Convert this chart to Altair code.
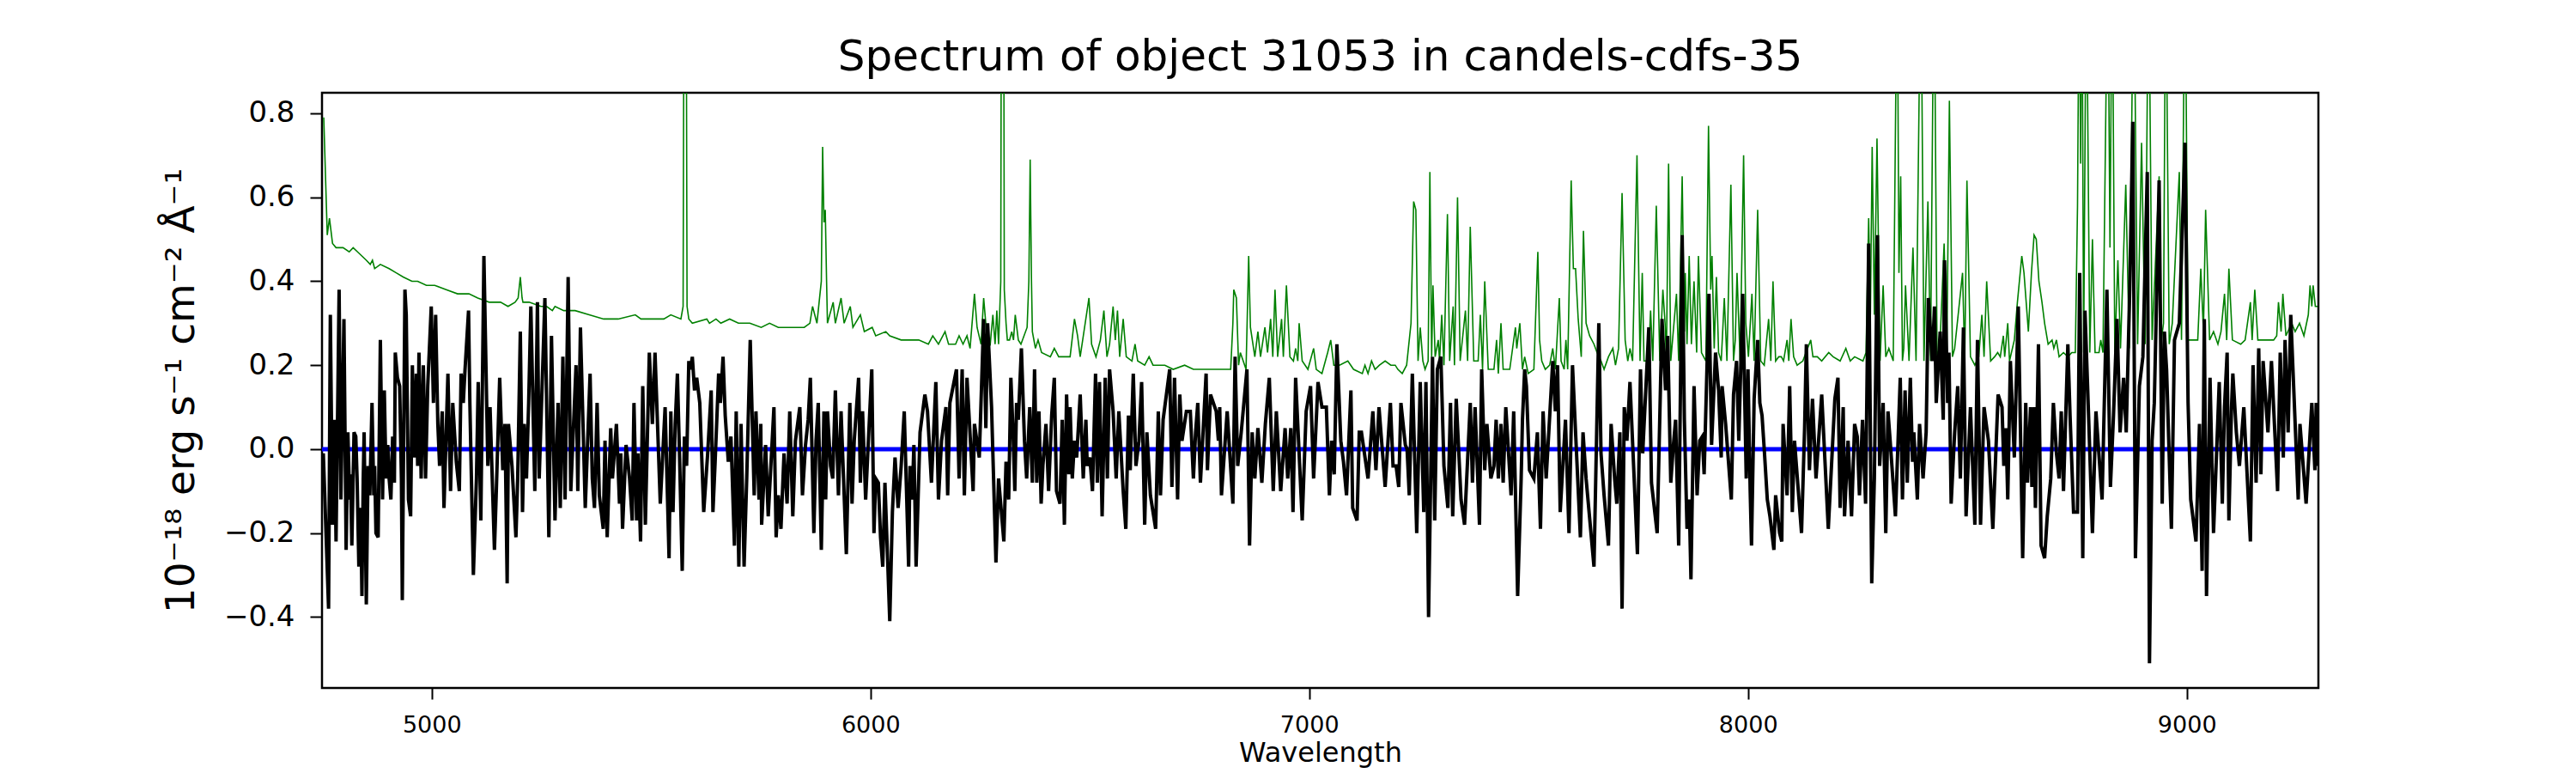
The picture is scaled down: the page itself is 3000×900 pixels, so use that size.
import altair as alt
import pandas as pd

FONT = "DejaVu Sans"

# Object spectrum (black), wavelength in Angstrom, flux in 1e-18 erg/s/cm2/A
BLACK = [
    (4753, -0.01), (4765, -0.38), (4769, 0.32), (4774, -0.18), (4778, 0.07), (4782, -0.22),
    (4789, 0.38), (4793, -0.12), (4800, 0.31), (4805, -0.24), (4809, 0.04), (4813, -0.12),
    (4815, -0.06), (4818, -0.23), (4823, 0.04), (4827, 0.03), (4830, -0.07), (4834, -0.28),
    (4838, -0.14), (4841, -0.35), (4844, -0.07), (4846, 0.04), (4851, -0.37), (4855, -0.04),
    (4859, -0.11), (4864, 0.11), (4868, -0.11), (4870, -0.04), (4873, -0.20), (4878, -0.21),
    (4883, 0.26), (4888, -0.12), (4892, 0.14), (4896, -0.07), (4900, 0.01), (4903, -0.07),
    (4907, -0.12), (4911, 0.03), (4915, -0.08), (4917, 0.23), (4922, 0.17), (4927, 0.15),
    (4931, -0.07), (4933, -0.36), (4939, 0.38), (4942, 0.32), (4947, -0.12), (4952, -0.16),
    (4956, 0.20), (4960, -0.02), (4965, 0.18), (4968, -0.04), (4971, 0.23), (4976, -0.07),
    (4981, 0.20), (4986, -0.07), (4991, 0.15), (4999, 0.34), (5004, 0.11), (5009, 0.32),
    (5014, 0.06), (5018, -0.04), (5024, 0.09), (5028, -0.14), (5037, 0.18), (5043, -0.10),
    (5048, 0.11), (5056, -0.03), (5063, -0.10), (5067, 0.18), (5072, 0.11), (5076, 0.19),
    (5084, 0.33), (5087, 0.11), (5095, -0.30), (5102, -0.07), (5106, 0.16), (5112, -0.17),
    (5119, 0.46), (5128, -0.04), (5133, 0.10), (5143, -0.24), (5147, -0.11), (5155, 0.17),
    (5162, -0.05), (5167, 0.06), (5172, -0.32), (5175, 0.06), (5183, -0.04), (5192, -0.21),
    (5196, -0.07), (5202, 0.28), (5207, -0.15), (5211, 0.06), (5216, -0.07), (5221, 0.11),
    (5226, 0.34), (5235, -0.10), (5241, 0.35), (5245, -0.07), (5258, 0.36), (5267, -0.21),
    (5273, 0.27), (5281, -0.17), (5288, 0.11), (5293, -0.14), (5299, 0.22), (5304, -0.12),
    (5311, 0.41), (5317, -0.10), (5329, 0.20), (5333, -0.10), (5339, 0.29), (5350, -0.14),
    (5361, 0.18), (5366, -0.07), (5371, -0.14), (5377, 0.11), (5382, -0.11), (5391, -0.19),
    (5395, 0.02), (5400, -0.21), (5408, 0.05), (5412, -0.07), (5421, 0.06), (5428, -0.13),
    (5431, -0.01), (5435, -0.19), (5443, 0.01), (5451, -0.07), (5457, -0.17), (5461, 0.11),
    (5467, -0.17), (5470, -0.01), (5476, -0.22), (5481, 0.15), (5487, -0.18), (5496, 0.23),
    (5503, 0.06), (5509, 0.23), (5521, -0.13),
    (5532, 0.10), (5541, -0.26), (5545, 0.09), (5550, -0.15), (5555, 0.06), (5560, 0.18),
    (5565, -0.02), (5571, -0.29), (5576, 0.03), (5581, -0.04), (5586, 0.21), (5590, 0.19),
    (5594, 0.22), (5599, 0.14), (5604, 0.17), (5611, 0.11), (5620, -0.15), (5629, -0.01),
    (5637, 0.14), (5641, -0.15), (5646, -0.03), (5654, 0.18), (5658, 0.11), (5664, 0.22),
    (5669, 0.08), (5676, -0.03), (5682, 0.03), (5690, -0.23), (5694, 0.09), (5700, -0.28),
    (5705, 0.06), (5712, -0.28), (5718, -0.07), (5726, 0.26), (5735, -0.11), (5739, 0.09),
    (5746, -0.12), (5750, 0.06), (5752, -0.18), (5761, 0.01), (5767, -0.16), (5780, 0.10),
    (5785, -0.21), (5790, -0.11), (5796, -0.19), (5803, -0.01), (5810, -0.13), (5816, 0.09),
    (5823, -0.16), (5829, 0.02), (5839, 0.10), (5845, -0.11), (5852, 0.01), (5858, 0.07),
    (5863, 0.17), (5871, -0.20), (5876, 0.02), (5881, 0.11), (5888, -0.24), (5894, 0.09),
    (5898, -0.12), (5902, 0.09), (5909, -0.04), (5914, -0.07), (5920, 0.14), (5927, -0.11),
    (5933, 0.09), (5945, -0.25), (5953, 0.11), (5958, -0.13), (5963, 0.02), (5973, 0.17),
    (5977, -0.08), (5982, 0.09), (5989, -0.12), (6003, 0.19), (6008, -0.20), (6012, -0.07),
    (6018, -0.08), (6023, -0.21), (6028, -0.28), (6033, -0.08), (6044, -0.41), (6050, -0.15),
    (6056, -0.02), (6063, -0.14), (6070, -0.04), (6077, 0.09), (6087, -0.28), (6090, -0.04),
    (6095, -0.12), (6099, 0.01), (6104, -0.28), (6113, 0.04), (6124, 0.13), (6130, 0.09),
    (6139, -0.08), (6149, 0.16), (6155, -0.12), (6162, 0.02), (6172, 0.10), (6176, -0.11),
    (6181, 0.11), (6196, 0.19), (6202, -0.07), (6209, 0.19), (6214, -0.11), (6220, 0.17),
    (6234, -0.10), (6237, 0.06), (6248, -0.02), (6258, 0.31), (6263, 0.05), (6267, 0.30),
    (6276, 0.10),
    (6286, -0.27), (6292, -0.07), (6304, -0.22), (6309, -0.03), (6315, -0.12), (6320, 0.17),
    (6325, 0.04), (6329, -0.10), (6333, 0.11), (6337, 0.07), (6344, 0.24), (6351, 0.02),
    (6356, -0.07), (6363, 0.10), (6369, -0.08), (6374, 0.19), (6379, -0.08), (6384, 0.09),
    (6389, -0.13), (6393, -0.04), (6400, 0.06), (6406, -0.10), (6413, 0.08), (6419, 0.17),
    (6424, -0.10), (6432, -0.13), (6437, 0.07), (6442, -0.18), (6447, 0.13), (6452, -0.06),
    (6455, 0.10), (6460, -0.07), (6465, 0.02), (6470, -0.02), (6478, 0.13), (6485, -0.07),
    (6491, 0.07), (6494, -0.04), (6500, -0.02), (6506, -0.10), (6513, 0.18), (6517, -0.08),
    (6522, 0.16), (6528, -0.16), (6535, 0.17), (6540, -0.07), (6545, 0.19), (6553, 0.09),
    (6560, -0.07), (6566, 0.09), (6576, -0.10), (6582, -0.19), (6588, 0.08), (6592, -0.05),
    (6599, 0.18), (6605, -0.04), (6612, 0.02), (6618, 0.16), (6625, -0.18), (6630, 0.04),
    (6638, -0.11), (6650, -0.19), (6656, 0.09), (6661, -0.11), (6667, 0.07), (6682, 0.19),
    (6687, -0.09), (6693, 0.17), (6700, -0.12), (6705, 0.13), (6710, 0.02), (6720, 0.09),
    (6729, 0.09), (6736, -0.07), (6741, 0.04), (6746, 0.11), (6752, -0.08), (6765, 0.18),
    (6768, -0.05), (6775, 0.13), (6788, 0.09), (6793, 0.02), (6796, 0.10), (6800, -0.11),
    (6813, 0.09), (6826, -0.13), (6831, 0.22), (6837, -0.04), (6845, 0.04), (6858, 0.19),
    (6864, -0.23), (6870, 0.04), (6876, -0.07), (6883, 0.05), (6892, -0.08), (6900, 0.06),
    (6909, 0.17), (6918, -0.10), (6925, 0.09), (6935, -0.10), (6945, 0.05), (6951, -0.07),
    (6958, 0.05), (6963, -0.15), (6969, 0.17), (6984, -0.17), (6993, 0.09), (7003, 0.15),
    (7010, -0.07), (7020, 0.16), (7029, 0.10), (7039, 0.10), (7046, -0.11),
    (7051, 0.02), (7057, -0.06), (7063, 0.25), (7072, 0.02), (7078, -0.03), (7085, -0.11),
    (7095, 0.14), (7099, -0.14), (7109, -0.17), (7114, 0.04), (7119, 0.04), (7134, -0.07),
    (7145, 0.09), (7152, -0.05), (7159, 0.10), (7173, -0.09), (7185, 0.11), (7191, -0.04),
    (7198, -0.04), (7204, -0.09), (7209, 0.11), (7219, 0.01), (7223, 0.00), (7228, -0.11),
    (7235, 0.18), (7245, -0.20), (7253, 0.16), (7261, -0.15), (7266, 0.16), (7272, -0.40),
    (7281, 0.22), (7286, -0.17), (7292, 0.19), (7300, 0.22), (7307, -0.04), (7316, -0.14),
    (7322, 0.11), (7327, -0.16), (7335, 0.12), (7346, -0.12), (7354, -0.18), (7367, 0.11),
    (7372, -0.08), (7378, 0.10), (7388, -0.18), (7393, 0.19), (7400, -0.05), (7405, 0.06),
    (7414, -0.07), (7421, -0.04), (7426, 0.07), (7431, -0.07), (7437, 0.06), (7442, -0.08),
    (7448, 0.10), (7460, -0.11), (7466, 0.09), (7475, -0.35), (7483, -0.07), (7486, 0.07),
    (7491, 0.19), (7495, 0.15), (7502, -0.05), (7512, -0.07), (7520, 0.04), (7527, -0.19),
    (7533, 0.09), (7540, -0.07), (7546, 0.04), (7555, 0.21), (7561, 0.09), (7566, 0.20),
    (7572, -0.15), (7584, 0.07), (7592, -0.20), (7600, 0.20), (7618, -0.21), (7624, 0.04),
    (7631, -0.07), (7649, -0.28), (7660, 0.30), (7665, -0.01), (7672, -0.11), (7682, -0.23),
    (7688, 0.06), (7696, -0.07), (7701, -0.13), (7708, 0.04), (7713, -0.38), (7718, 0.10),
    (7724, 0.02), (7731, 0.16), (7748, -0.25), (7755, 0.19), (7760, -0.01), (7774, 0.29),
    (7780, -0.08), (7793, -0.20), (7804, 0.31), (7812, 0.14),
    (7817, 0.27), (7824, -0.08), (7830, 0.01), (7835, 0.07), (7842, -0.23), (7850, 0.51),
    (7855, 0.07), (7861, -0.19), (7866, -0.12), (7870, -0.31), (7877, 0.15), (7884, -0.11),
    (7890, 0.02), (7896, 0.03), (7900, -0.06), (7911, 0.37), (7917, 0.01), (7926, 0.23),
    (7933, 0.14), (7939, -0.02), (7941, 0.15), (7949, 0.06), (7962, -0.12), (7967, 0.13),
    (7974, 0.21), (7979, 0.02), (7988, 0.37), (7996, -0.07), (8000, 0.19), (8005, -0.10),
    (8008, -0.23), (8014, 0.12), (8022, 0.26), (8027, 0.11), (8032, 0.08), (8037, 0.00),
    (8044, -0.12), (8050, -0.16), (8059, -0.24), (8063, -0.11), (8072, -0.20), (8077, -0.22),
    (8080, 0.06), (8089, -0.11), (8095, 0.15), (8101, -0.15), (8106, 0.02), (8122, -0.20),
    (8129, 0.05), (8133, 0.25), (8140, -0.05), (8147, 0.12), (8155, -0.07), (8168, 0.13),
    (8183, -0.19), (8198, 0.12), (8205, 0.17), (8210, -0.14), (8217, 0.10), (8220, -0.16),
    (8228, 0.02), (8236, -0.16), (8243, 0.06), (8249, 0.03), (8254, -0.11), (8261, 0.07),
    (8268, -0.13), (8275, 0.49), (8282, -0.32), (8288, -0.07), (8295, 0.51), (8300, -0.04),
    (8308, 0.11), (8314, -0.20), (8319, 0.09), (8324, 0.02), (8336, -0.16), (8347, 0.17),
    (8352, -0.12), (8358, 0.14), (8363, -0.08), (8370, 0.17), (8375, -0.03), (8378, 0.04),
    (8386, -0.12), (8391, 0.06), (8399, -0.07), (8406, 0.04), (8411, 0.36), (8420, 0.21),
    (8425, 0.34), (8429, 0.11), (8438, 0.28), (8445, 0.07), (8448, 0.45), (8455, 0.11),
    (8458, 0.23), (8463, -0.13), (8471, 0.04), (8478, 0.15), (8484, -0.07), (8491, 0.29),
    (8497, -0.16), (8507, 0.10), (8517, -0.18), (8523, 0.26), (8530, -0.18), (8538, 0.10),
    (8548, 0.02), (8558, -0.19), (8570, 0.13),
    (8579, 0.10), (8583, -0.04), (8588, 0.05), (8592, -0.12), (8598, 0.21), (8607, -0.02),
    (8616, 0.34), (8626, -0.26), (8633, 0.11), (8637, -0.08), (8644, 0.10), (8647, -0.09),
    (8652, 0.10), (8655, -0.14), (8662, 0.25), (8668, -0.23), (8676, -0.26), (8682, -0.16),
    (8690, -0.07), (8696, 0.11), (8703, -0.01), (8709, -0.07), (8714, 0.09), (8719, -0.10),
    (8729, 0.25), (8734, 0.08), (8742, -0.15), (8751, -0.15), (8756, 0.42), (8763, -0.26),
    (8768, 0.33), (8774, 0.15), (8785, -0.20), (8793, 0.09), (8807, -0.12), (8818, 0.38),
    (8826, -0.09), (8833, 0.08), (8841, 0.31), (8848, 0.04), (8856, 0.17), (8862, 0.04),
    (8870, 0.38), (8877, 0.78), (8883, -0.26), (8892, 0.15), (8900, 0.22), (8910, 0.66),
    (8915, -0.51), (8921, 0.02), (8926, 0.11), (8937, 0.64), (8944, -0.13), (8949, 0.28),
    (8954, 0.19), (8965, -0.19), (8972, 0.26), (8983, 0.30), (8996, 0.73), (9003, 0.11),
    (9009, -0.12), (9021, -0.22), (9029, 0.06), (9035, -0.29), (9040, 0.31), (9045, -0.35),
    (9053, 0.17), (9061, -0.20), (9074, 0.16), (9081, -0.13), (9086, 0.10), (9092, 0.23),
    (9096, -0.17), (9102, 0.10), (9105, 0.18), (9113, 0.04), (9120, -0.04), (9130, 0.10),
    (9145, -0.22), (9151, 0.20), (9158, -0.08), (9164, 0.24), (9169, -0.06), (9174, 0.21),
    (9185, 0.04), (9193, 0.21), (9207, -0.10), (9213, 0.23), (9220, -0.02), (9224, 0.26),
    (9231, 0.04), (9237, 0.32), (9254, -0.12), (9258, 0.06), (9272, -0.13), (9285, 0.11),
    (9292, -0.05), (9295, 0.11), (9298, -0.04),
]

# Sky / noise spectrum (green); values above the top of the frame are clipped
SKY = [
    (4754, 0.79), (4762, 0.51), (4767, 0.55), (4774, 0.49), (4782, 0.48), (4798, 0.48),
    (4812, 0.47), (4821, 0.48), (4831, 0.47), (4851, 0.45), (4860, 0.44), (4865, 0.45),
    (4870, 0.43), (4883, 0.44), (4903, 0.43), (4919, 0.42), (4935, 0.41), (4955, 0.40),
    (4968, 0.40), (4988, 0.39), (5007, 0.39), (5033, 0.38), (5059, 0.37), (5085, 0.37),
    (5105, 0.36), (5131, 0.35), (5157, 0.35), (5174, 0.34), (5190, 0.35), (5197, 0.36),
    (5202, 0.41), (5206, 0.36), (5208, 0.35), (5222, 0.35), (5249, 0.34), (5262, 0.34),
    (5275, 0.33), (5281, 0.34), (5301, 0.33), (5327, 0.33), (5359, 0.32), (5392, 0.31),
    (5425, 0.31), (5464, 0.32), (5477, 0.31), (5522, 0.31), (5529, 0.31), (5545, 0.32),
    (5568, 0.31), (5573, 0.34), (5576, 1.6), (5579, 1.6), (5582, 0.34), (5586, 0.31),
    (5594, 0.30), (5627, 0.31), (5633, 0.30), (5648, 0.31), (5659, 0.30), (5679, 0.31),
    (5699, 0.30), (5725, 0.30), (5751, 0.29), (5770, 0.30), (5790, 0.29), (5816, 0.29),
    (5849, 0.29), (5862, 0.30), (5868, 0.34), (5878, 0.30), (5888, 0.40), (5891, 0.72),
    (5894, 0.54), (5897, 0.57), (5900, 0.40), (5902, 0.30), (5915, 0.35), (5920, 0.30),
    (5933, 0.36), (5940, 0.30), (5954, 0.34), (5960, 0.29), (5977, 0.32), (5986, 0.28),
    (6004, 0.29), (6012, 0.27), (6035, 0.28), (6044, 0.27), (6070, 0.26), (6110, 0.26),
    (6132, 0.25), (6142, 0.27), (6155, 0.25), (6170, 0.28), (6178, 0.25), (6194, 0.25),
    (6202, 0.27), (6211, 0.25), (6220, 0.27), (6227, 0.24), (6237, 0.37), (6243, 0.29),
    (6252, 0.25), (6258, 0.36), (6266, 0.26), (6273, 0.25), (6279, 0.32), (6284, 0.25),
    (6288, 0.33), (6292, 0.25), (6297, 0.40), (6299, 1.6), (6303, 1.6), (6305, 0.38),
    (6309, 0.30), (6312, 0.26), (6317, 0.26), (6322, 0.28), (6326, 0.26), (6330, 0.32),
    (6337, 0.26), (6343, 0.25), (6357, 0.29), (6361, 0.40), (6364, 0.69), (6367, 0.40),
    (6369, 0.28), (6376, 0.24), (6382, 0.26), (6390, 0.23), (6410, 0.22), (6419, 0.24),
    (6429, 0.22), (6455, 0.22), (6465, 0.31), (6472, 0.27), (6478, 0.22), (6498, 0.36),
    (6504, 0.25), (6514, 0.22), (6524, 0.26), (6532, 0.33), (6539, 0.22), (6545, 0.25),
    (6553, 0.34), (6558, 0.26), (6563, 0.33), (6568, 0.22), (6576, 0.31), (6583, 0.22),
    (6596, 0.21), (6603, 0.25), (6609, 0.21), (6625, 0.20), (6635, 0.22), (6644, 0.20),
    (6671, 0.20), (6690, 0.19), (6716, 0.20), (6736, 0.19), (6762, 0.19), (6788, 0.19),
    (6821, 0.19), (6826, 0.30), (6828, 0.38), (6834, 0.36), (6839, 0.20), (6843, 0.23),
    (6856, 0.19), (6862, 0.46), (6866, 0.29), (6876, 0.22), (6883, 0.28), (6889, 0.22),
    (6899, 0.29), (6905, 0.23), (6912, 0.31), (6917, 0.22), (6922, 0.38), (6928, 0.22),
    (6937, 0.31), (6941, 0.22), (6948, 0.39), (6956, 0.22), (6964, 0.21), (6969, 0.24),
    (6974, 0.21), (6977, 0.30), (6984, 0.21), (6997, 0.19), (7010, 0.24), (7016, 0.19),
    (7029, 0.18), (7042, 0.23), (7049, 0.26), (7056, 0.20), (7069, 0.20), (7088, 0.21),
    (7101, 0.19), (7121, 0.18), (7127, 0.20), (7134, 0.18), (7142, 0.21), (7150, 0.19),
    (7160, 0.20), (7173, 0.21), (7186, 0.20), (7196, 0.20), (7202, 0.19), (7212, 0.18),
    (7222, 0.20), (7232, 0.30), (7238, 0.59), (7243, 0.57), (7248, 0.21), (7253, 0.29),
    (7259, 0.21), (7264, 0.19), (7271, 0.21), (7275, 0.66), (7279, 0.22), (7282, 0.39),
    (7287, 0.22), (7294, 0.26), (7297, 0.21), (7302, 0.32), (7307, 0.20), (7315, 0.56),
    (7320, 0.21), (7328, 0.34), (7331, 0.20), (7338, 0.60), (7344, 0.21), (7356, 0.33),
    (7361, 0.21), (7367, 0.53), (7375, 0.21), (7385, 0.21), (7390, 0.32), (7395, 0.19),
    (7400, 0.40), (7408, 0.19), (7421, 0.19), (7427, 0.26), (7431, 0.18), (7437, 0.30),
    (7442, 0.19), (7457, 0.19), (7470, 0.29), (7473, 0.24), (7480, 0.30), (7486, 0.19),
    (7491, 0.22), (7499, 0.18), (7512, 0.19), (7521, 0.47), (7525, 0.26), (7530, 0.21),
    (7538, 0.19), (7548, 0.20), (7555, 0.24), (7561, 0.19), (7570, 0.36), (7574, 0.21),
    (7581, 0.19), (7585, 0.26), (7589, 0.19), (7597, 0.64), (7602, 0.43), (7607, 0.43),
    (7613, 0.31), (7620, 0.22), (7625, 0.52), (7631, 0.30), (7639, 0.27), (7649, 0.25),
    (7656, 0.23), (7665, 0.21), (7672, 0.19), (7682, 0.22), (7692, 0.24), (7698, 0.20),
    (7705, 0.24), (7713, 0.61), (7720, 0.26), (7726, 0.21), (7731, 0.24), (7737, 0.21),
    (7747, 0.70), (7754, 0.21), (7759, 0.42), (7763, 0.21), (7773, 0.21), (7778, 0.33),
    (7783, 0.21), (7791, 0.58), (7799, 0.21), (7806, 0.38), (7811, 0.30), (7814, 0.21),
    (7819, 0.68), (7824, 0.21), (7837, 0.37), (7842, 0.21), (7850, 0.65), (7855, 0.28),
    (7857, 0.42), (7861, 0.25), (7866, 0.46), (7871, 0.25), (7877, 0.40), (7883, 0.23),
    (7887, 0.46), (7894, 0.23), (7904, 0.21), (7910, 0.77), (7915, 0.38), (7918, 0.46),
    (7923, 0.24), (7928, 0.41), (7933, 0.23), (7939, 0.21), (7946, 0.36), (7952, 0.21),
    (7961, 0.63), (7967, 0.21), (7971, 0.26), (7975, 0.42), (7982, 0.21), (7990, 0.70),
    (7995, 0.30), (8001, 0.22), (8009, 0.37), (8014, 0.21), (8022, 0.57), (8029, 0.21),
    (8037, 0.20), (8047, 0.31), (8052, 0.21), (8057, 0.40), (8063, 0.21), (8070, 0.22),
    (8076, 0.22), (8081, 0.21), (8089, 0.26), (8093, 0.21), (8098, 0.31), (8104, 0.22),
    (8112, 0.20), (8125, 0.21), (8143, 0.26), (8148, 0.22), (8158, 0.22), (8168, 0.21),
    (8184, 0.23), (8194, 0.22), (8210, 0.21), (8223, 0.24), (8233, 0.21), (8243, 0.22),
    (8262, 0.21), (8269, 0.23), (8275, 0.55), (8279, 0.32), (8283, 0.72), (8288, 0.32),
    (8294, 0.74), (8301, 0.21), (8308, 0.39), (8314, 0.22), (8321, 0.24), (8331, 0.21),
    (8340, 1.2), (8344, 0.42), (8348, 0.65), (8352, 0.21), (8355, 0.24), (8359, 0.39),
    (8367, 0.21), (8376, 0.48), (8383, 0.21), (8394, 1.2), (8401, 0.21), (8410, 0.59),
    (8416, 0.21), (8424, 1.2), (8431, 0.21), (8438, 0.26), (8447, 0.49), (8453, 0.21),
    (8459, 0.83), (8466, 0.22), (8471, 0.24), (8489, 0.42), (8494, 0.21), (8499, 0.64),
    (8507, 0.22), (8517, 0.20), (8526, 0.22), (8533, 0.32), (8538, 0.22), (8544, 0.40),
    (8553, 0.21), (8562, 0.22), (8569, 0.23), (8575, 0.22), (8582, 0.27), (8585, 0.22),
    (8592, 0.30), (8596, 0.21), (8607, 0.26), (8614, 0.35), (8624, 0.46), (8629, 0.42),
    (8639, 0.28), (8646, 0.42), (8652, 0.51), (8657, 0.50), (8663, 0.40), (8670, 0.35),
    (8676, 0.30), (8684, 0.25), (8693, 0.26), (8697, 0.24), (8703, 0.26), (8709, 0.22),
    (8719, 0.23), (8729, 0.22), (8738, 0.23), (8746, 0.23), (8751, 0.58), (8755, 1.2),
    (8758, 0.68), (8761, 1.2), (8765, 0.23), (8771, 1.2), (8779, 0.23), (8785, 0.50),
    (8791, 0.23), (8800, 0.23), (8804, 0.26), (8809, 0.23), (8820, 1.2), (8825, 0.48),
    (8830, 1.2), (8836, 0.23), (8843, 0.45), (8849, 0.24), (8861, 0.63), (8869, 0.24),
    (8879, 1.2), (8888, 0.25), (8897, 0.73), (8905, 0.25), (8913, 1.2), (8921, 0.26),
    (8937, 0.65), (8941, 0.25), (8947, 0.30), (8952, 1.2), (8960, 0.25), (8967, 0.30),
    (8983, 0.66), (8988, 0.26), (8996, 1.2), (9003, 0.26), (9012, 0.26), (9025, 0.26),
    (9032, 0.43), (9038, 0.28), (9043, 0.57), (9052, 0.26), (9061, 0.28), (9071, 0.25),
    (9078, 0.28), (9086, 0.37), (9091, 0.26), (9096, 0.43), (9104, 0.26), (9123, 0.25),
    (9133, 0.26), (9145, 0.35), (9149, 0.26), (9155, 0.38), (9162, 0.26), (9182, 0.26),
    (9198, 0.26), (9205, 0.27), (9209, 0.35), (9215, 0.28), (9219, 0.37), (9226, 0.27),
    (9239, 0.30), (9247, 0.28), (9257, 0.30), (9267, 0.27), (9277, 0.32), (9281, 0.39),
    (9285, 0.34), (9288, 0.39), (9293, 0.34), (9298, 0.34),
]

ZERO_WAVE = [4750, 9300]
ZERO_FLUX = [0.0, 0.0]

X_DOMAIN = [4750, 9300]
Y_DOMAIN = [-0.569, 0.849]
X_TICKS = [5000, 6000, 7000, 8000, 9000]
Y_TICKS = [-0.4, -0.2, 0.0, 0.2, 0.4, 0.6, 0.8]

TITLE = "Spectrum of object 31053 in candels-cdfs-35"
X_TITLE = "Wavelength"
Y_TITLE = "10\u207b\u00b9\u2078 erg s\u207b\u00b9 cm\u207b\u00b2 \u00c5\u207b\u00b9"

W, H = 2325, 693

black_df = pd.DataFrame(BLACK, columns=["wave", "flux"])
sky_df = pd.DataFrame(SKY, columns=["wave", "flux"])
zero_df = pd.DataFrame({"wave": ZERO_WAVE, "flux": ZERO_FLUX})

x_enc = alt.X(
    "wave:Q",
    scale=alt.Scale(domain=X_DOMAIN, nice=False, zero=False),
    axis=alt.Axis(
        values=X_TICKS, format="d", labelFontSize=27, labelFont=FONT, labelColor="black",
        tickSize=13, tickWidth=2, tickColor="black", labelPadding=17,
        domain=False, grid=False,
        title=X_TITLE, titleFontSize=32, titleFont=FONT, titleFontWeight="normal",
        titleColor="black", titleBaseline="alphabetic", titleX=W / 2, titleY=85,
        titleAlign="center",
    ),
)
y_enc = alt.Y(
    "flux:Q",
    scale=alt.Scale(domain=Y_DOMAIN, nice=False, zero=False),
    axis=alt.Axis(
        values=Y_TICKS, format=".1f", labelExpr="replace(datum.label, '-', '\u2212')",
        labelFontSize=34, labelFont=FONT, labelColor="black",
        tickSize=14, tickWidth=2, tickColor="black", labelPadding=18,
        domain=False, grid=False,
        title=Y_TITLE, titleFontSize=47, titleFont=FONT, titleFontWeight="normal",
        titleColor="black", titleBaseline="alphabetic", titleAngle=270,
        titleX=-150, titleY=H / 2, titleAlign="center",
    ),
)

sky = alt.Chart(sky_df).mark_line(color="#008000", strokeWidth=1.6, clip=True).encode(x=x_enc, y=y_enc)
zero = alt.Chart(zero_df).mark_line(color="#0000ff", strokeWidth=5, clip=True).encode(x=x_enc, y=y_enc)
obj = alt.Chart(black_df).mark_line(color="black", strokeWidth=4, clip=True).encode(x=x_enc, y=y_enc)

chart = (
    alt.layer(sky, zero, obj)
    .properties(
        width=W,
        height=H,
        background="white",
        title=alt.TitleParams(
            TITLE, fontSize=50, font=FONT, fontWeight="normal", color="black",
            anchor="middle", frame="group", baseline="alphabetic", offset=24, dy=48,
        ),
        autosize=alt.AutoSizeParams(type="none"),
        padding={"left": 367, "top": 100, "right": 280, "bottom": 97},
    )
    .configure_view(stroke="black", strokeWidth=2.5)
)

chart.save("out.html", embed_options={"renderer": "svg", "actions": False})
